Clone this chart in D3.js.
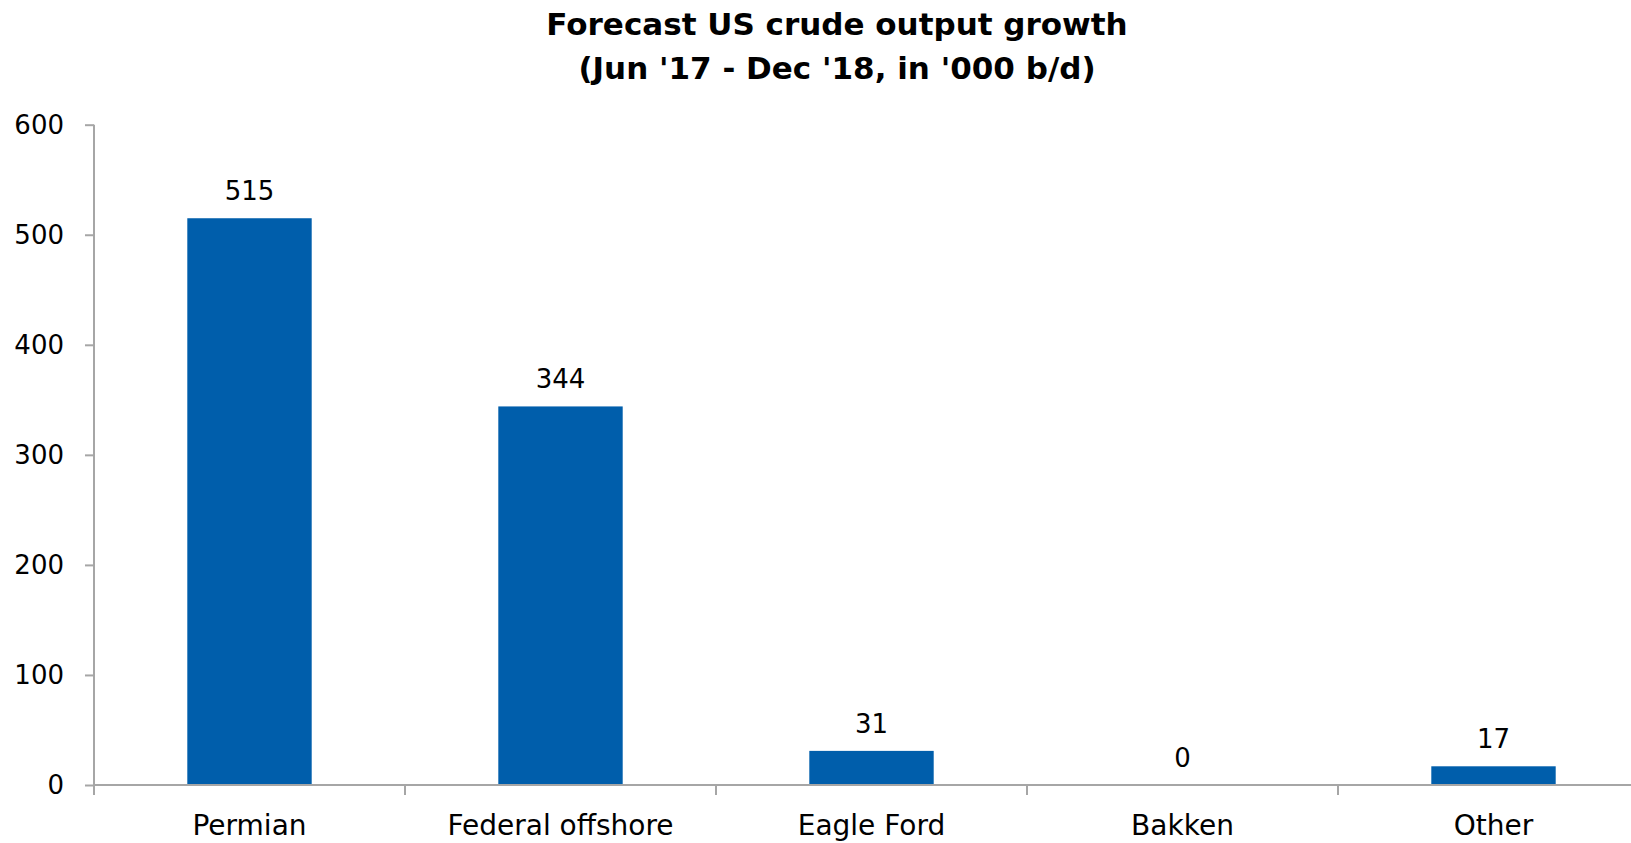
<!DOCTYPE html>
<html>
<head>
<meta charset="utf-8">
<script src="https://cdn.jsdelivr.net/npm/d3@7"></script>
<style>
  body { margin: 0; background: #fff; }
  text { font-family: "DejaVu Sans", Verdana, sans-serif; fill: #000; }
</style>
</head>
<body>
<svg id="chart" width="1631" height="843"></svg>
<script>
// chart data
const categories = ['Permian', 'Federal offshore', 'Eagle Ford', 'Bakken', 'Other'];
const growth = [515, 344, 31, 0, 17];
const yTicks = [0, 100, 200, 300, 400, 500, 600];
const titleLines = ['Forecast US crude output growth', "(Jun '17 - Dec '18, in '000 b/d)"];

const svg = d3.select('#chart');
const axisColor = '#a6a6a6';
const barColor = '#005eab';

// plot area (runs off the right edge like the original)
const plotLeft = 94, plotBottom = 785, plotTop = 124.7;
const step = 311;

const x = d3.scaleBand()
  .domain(categories)
  .range([plotLeft, plotLeft + step * categories.length])
  .paddingInner(0.6)
  .paddingOuter(0.3);

const y = d3.scaleLinear().domain([0, 600]).range([plotBottom, plotTop]);

// title
svg.append('g')
  .selectAll('text')
  .data(titleLines)
  .join('text')
  .attr('x', 837)
  .attr('y', (d, i) => 35 + i * 44)
  .attr('text-anchor', 'middle')
  .style('font-size', '31px')
  .style('font-weight', 'bold')
  .text((d) => d);

// y axis
const yAxis = svg.append('g')
  .attr('transform', `translate(${plotLeft},0)`)
  .call(d3.axisLeft(y).tickValues(yTicks).tickSize(9).tickPadding(21));
yAxis.select('.domain').remove();
yAxis.selectAll('line').attr('stroke', axisColor).attr('stroke-width', 2);
yAxis.selectAll('text').style('font-size', '26px').style('font-family', '"DejaVu Sans", Verdana, sans-serif');

// y axis line, runs down past the baseline
svg.append('line')
  .attr('x1', plotLeft).attr('x2', plotLeft)
  .attr('y1', plotTop).attr('y2', plotBottom + 10)
  .attr('stroke', axisColor).attr('stroke-width', 2);

// bars
svg.append('g')
  .selectAll('rect')
  .data(growth)
  .join('rect')
  .attr('x', (d, i) => x(categories[i]))
  .attr('width', x.bandwidth())
  .attr('y', (d) => y(d))
  .attr('height', (d) => plotBottom - y(d))
  .attr('fill', barColor);

// x axis baseline
svg.append('line')
  .attr('x1', plotLeft).attr('x2', x.range()[1])
  .attr('y1', plotBottom).attr('y2', plotBottom)
  .attr('stroke', axisColor).attr('stroke-width', 2);

// category separators
svg.append('g')
  .selectAll('line')
  .data(d3.range(1, categories.length))
  .join('line')
  .attr('x1', (i) => plotLeft + i * x.step())
  .attr('x2', (i) => plotLeft + i * x.step())
  .attr('y1', plotBottom).attr('y2', plotBottom + 10)
  .attr('stroke', axisColor).attr('stroke-width', 2);

// category labels
svg.append('g')
  .selectAll('text')
  .data(categories)
  .join('text')
  .attr('x', (d) => x(d) + x.bandwidth() / 2)
  .attr('y', 835)
  .attr('text-anchor', 'middle')
  .style('font-size', '28px')
  .text((d) => d);

// value labels
svg.append('g')
  .selectAll('text')
  .data(growth)
  .join('text')
  .attr('x', (d, i) => x(categories[i]) + x.bandwidth() / 2)
  .attr('y', (d) => y(d) - 18)
  .attr('text-anchor', 'middle')
  .style('font-size', '26px')
  .text((d) => d);
</script>
</body>
</html>
